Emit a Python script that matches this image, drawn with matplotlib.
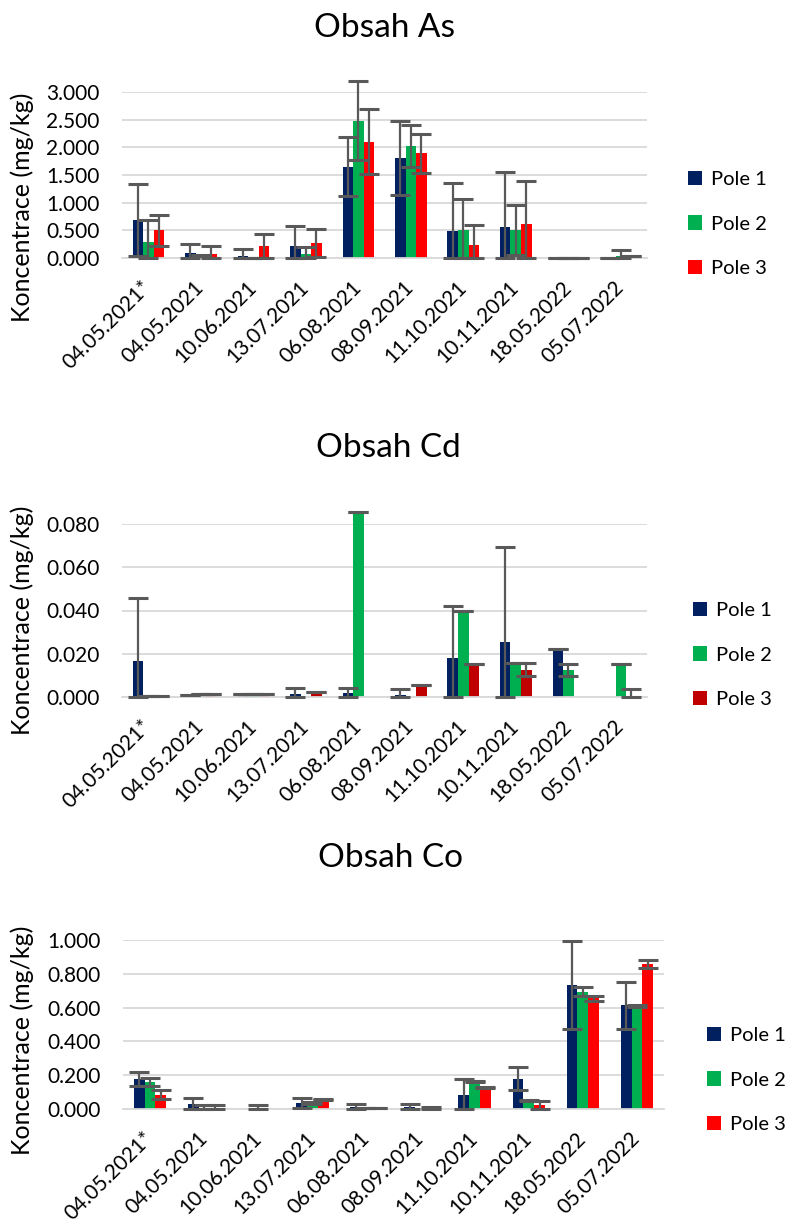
import numpy as np
import matplotlib
matplotlib.use("Agg")
import matplotlib.pyplot as plt
from matplotlib.patches import Patch

plt.rcParams['font.family'] = ['Lato', 'DejaVu Sans']

dates = ['04.05.2021*', '04.05.2021', '10.06.2021', '13.07.2021', '06.08.2021',
         '08.09.2021', '11.10.2021', '10.11.2021', '18.05.2022', '05.07.2022']
series = ['Pole 1', 'Pole 2', 'Pole 3']
nan = np.nan

# Obsah As
as_p1 = [0.68, 0.085, 0.04, 0.22, 1.65, 1.81, 0.49, 0.56, 0.005, 0.003]
as_p2 = [0.29, 0.04, 0.005, 0.07, 2.48, 2.03, 0.50, 0.51, 0.005, 0.04]
as_p3 = [0.50, 0.07, 0.21, 0.27, 2.10, 1.89, 0.24, 0.61, 0.005, 0.03]
as_e1 = [0.65, 0.17, 0.12, 0.36, 0.53, 0.67, 0.86, 0.99, 0.0, 0.0]
as_e2 = [0.39, 0.01, 0.0, 0.12, 0.71, 0.38, 0.56, 0.45, 0.0, 0.10]
as_e3 = [0.28, 0.15, 0.23, 0.25, 0.59, 0.36, 0.35, 0.79, 0.0, 0.0]

# Obsah Cd
cd_p1 = [0.0166, 0.0010, 0.0012, 0.0014, 0.0017, 0.0010, 0.0182, 0.0254, 0.0222, 0.0002]
cd_p2 = [0.0005, 0.0012, 0.0012, nan, 0.0854, nan, 0.0398, 0.0156, 0.0125, 0.0154]
cd_p3 = [0.0005, 0.0012, 0.0012, 0.0023, nan, 0.0055, 0.0151, 0.0125, nan, 0.0]
cd_e1 = [0.029, 0.0, 0.0, 0.0029, 0.0026, 0.0027, 0.0237, 0.044, 0.0, nan]
cd_e2 = [0.0, 0.0, 0.0, nan, 0.0, nan, 0.0, 0.0, 0.0028, 0.0]
cd_e3 = [0.0, 0.0, 0.0, 0.0, nan, 0.0, 0.0, 0.003, nan, 0.0035]

# Obsah Co
co_p1 = [0.179, 0.031, 0.002, 0.035, 0.014, 0.012, 0.085, 0.179, 0.734, 0.614]
co_p2 = [0.160, 0.004, 0.001, 0.035, 0.005, 0.001, 0.163, 0.049, 0.695, 0.610]
co_p3 = [0.085, 0.004, 0.001, 0.055, 0.005, 0.004, 0.130, 0.022, 0.655, 0.858]
co_e1 = [0.040, 0.032, nan, 0.028, 0.016, 0.020, 0.090, 0.069, 0.262, 0.140]
co_e2 = [0.024, 0.020, 0.025, 0.005, 0.0, nan, 0.003, 0.003, 0.025, 0.008]
co_e3 = [0.027, 0.022, nan, 0.003, 0.0, 0.005, 0.003, 0.023, 0.014, 0.023]

NAVY, GREEN, RED, DARKRED = '#002060', '#00B050', '#FF0000', '#C00000'
GRID = '#D9D9D9'
ERR = '#595959'


def draw_panel(ax, vals, errs, colors, ymax, step, title, title_xy, ylabel_y, legend_xy):
    x = np.arange(len(dates))
    w = 0.2
    for i, (v, e, c) in enumerate(zip(vals, errs, colors)):
        v = np.array(v, dtype=float)
        e = np.array(e, dtype=float)
        xs = x + (i - 1) * w
        ax.bar(xs, np.nan_to_num(v), w, color=c, zorder=2, linewidth=0, clip_on=False)
        ok = np.isfinite(v) & np.isfinite(e)
        lower = np.minimum(e[ok], v[ok])
        ax.errorbar(xs[ok], v[ok], yerr=[lower, e[ok]], fmt='none', ecolor=ERR,
                    elinewidth=1.6, capsize=7, capthick=2.2, zorder=3, clip_on=False)
    ax.set_xlim(-0.5, len(dates) - 0.5)
    ax.set_ylim(0, ymax)
    ax.set_yticks(np.arange(0, ymax + step / 2, step))
    ax.yaxis.set_major_formatter(matplotlib.ticker.FormatStrFormatter('%.3f'))
    ax.yaxis.grid(True, color=GRID, linewidth=1.3)
    ax.set_axisbelow(True)
    for s in ['top', 'right', 'left']:
        ax.spines[s].set_visible(False)
    ax.spines['bottom'].set_color(GRID)
    ax.spines['bottom'].set_linewidth(1.3)
    ax.tick_params(length=0, labelsize=15, colors='black')
    ax.tick_params(axis='y', pad=16)
    ax.tick_params(axis='x', pad=19)
    ax.set_xticks(x)
    ax.set_xticklabels(dates, rotation=45, ha='right', va='center', rotation_mode='anchor')

    fig.text(title_xy[0], title_xy[1], title, ha='center', va='center', fontsize=24)
    fig.text(22 / 787, ylabel_y, 'Koncentrace (mg/kg)', rotation=90,
             ha='center', va='center', fontsize=18)
    handles = [Patch(facecolor=c, label=s) for c, s in zip(colors, series)]
    ax.legend(handles=handles, loc='center left', bbox_to_anchor=legend_xy,
              bbox_transform=fig.transFigure, frameon=False, fontsize=14.5,
              handlelength=0.7, handleheight=0.7, handletextpad=0.45,
              labelspacing=1.35, borderpad=0, borderaxespad=0)


fig = plt.figure(figsize=(7.87, 12.25), dpi=100)
H = 1225

ax1 = fig.add_axes([122 / 787, 1 - 258 / H, (647 - 122) / 787, (258 - 92) / H])
draw_panel(ax1, [as_p1, as_p2, as_p3], [as_e1, as_e2, as_e3], [NAVY, GREEN, RED],
           3.0, 0.5, 'Obsah As', (384 / 787, 1 - 28 / H), 1 - 207 / H, (688 / 787, 1 - 224 / H))

ax2 = fig.add_axes([122 / 787, 1 - 697 / H, (647 - 122) / 787, (697 - 524) / H])
draw_panel(ax2, [cd_p1, cd_p2, cd_p3], [cd_e1, cd_e2, cd_e3], [NAVY, GREEN, DARKRED],
           0.08, 0.02, 'Obsah Cd', (388 / 787, 1 - 448 / H), 1 - 620 / H, (693 / 787, 1 - 655 / H))

ax3 = fig.add_axes([123 / 787, 1 - 1109 / H, (664 - 123) / 787, (1109 - 940) / H])
draw_panel(ax3, [co_p1, co_p2, co_p3], [co_e1, co_e2, co_e3], [NAVY, GREEN, RED],
           1.0, 0.2, 'Obsah Co', (390 / 787, 1 - 858 / H), 1 - 1040 / H, (707 / 787, 1 - 1080 / H))

fig.savefig('out.png', dpi=100)
